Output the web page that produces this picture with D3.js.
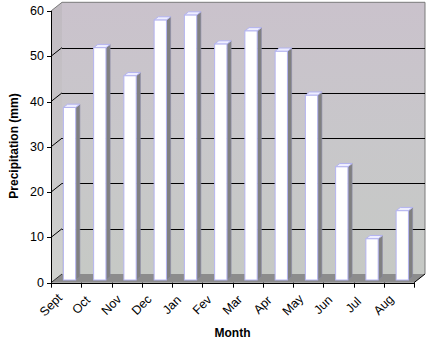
<!DOCTYPE html>
<html><head><meta charset="utf-8">
<script src="https://cdn.jsdelivr.net/npm/d3@7"></script>
<style>body{margin:0;background:#fff}svg{display:block}text{font-family:"Liberation Sans",Arial,sans-serif;fill:#000}</style>
</head><body><svg id="c" width="429" height="343"></svg>
<script>
const months = ["Sept","Oct","Nov","Dec","Jan","Fev","Mar","Apr","May","Jun","Jul","Aug"];
const precipitation = [38.1,51.3,45.1,57.4,58.5,52.1,55.0,50.5,40.8,25.0,9.1,15.3];
const yTicks = [0,10,20,30,40,50,60];
const yTitle = "Precipitation (mm)";
const xTitle = "Month";

const svg = d3.select("#c");
const x = d3.scaleBand().domain(months).range([51,414]).padding(0);
const y = d3.scaleLinear().domain([0,60]).range([282.7,11]);
const DX = 11, DY = -8.7;          // depth offset of the back wall
const BF = 0.31, BD = 0.38;        // bar front plane fraction, bar depth fraction
const barW = 12.3;

const defs = svg.append("defs");
const g1 = defs.append("linearGradient").attr("id","wall").attr("x1",0).attr("y1",0).attr("x2",0).attr("y2",1);
g1.append("stop").attr("offset","0").attr("stop-color","#cac2cc");
g1.append("stop").attr("offset","0.5").attr("stop-color","#c8c7ca");
g1.append("stop").attr("offset","1").attr("stop-color","#c6c9c5");
const g2 = defs.append("linearGradient").attr("id","side").attr("x1",0).attr("y1",0).attr("x2",0).attr("y2",1);
g2.append("stop").attr("offset","0").attr("stop-color","#c0bac1");
g2.append("stop").attr("offset","1").attr("stop-color","#d0d2cf");

const x0 = x.range()[0], x1 = x.range()[1];
const yb = v => y(v) + DY;
const line = d3.line();

// back wall
svg.append("path").attr("d", line([[x0+DX,yb(60)],[x1+DX,yb(60)],[x1+DX,yb(0)],[x0+DX,yb(0)]])+"Z")
  .attr("fill","url(#wall)");
// side wall
svg.append("path").attr("d", line([[x0,y(60)],[x0+DX,yb(60)],[x0+DX,yb(0)],[x0,y(0)]])+"Z")
  .attr("fill","url(#side)");
// floor
svg.append("path").attr("d", line([[x0,y(0)],[x1,y(0)],[x1+DX,yb(0)],[x0+DX,yb(0)]])+"Z")
  .attr("fill","#8c8c8c");

// wall borders
svg.append("path").attr("d", line([[x0,y(60)],[x0+DX,yb(60)],[x1+DX,yb(60)],[x1+DX,yb(0)]]))
  .attr("fill","none").attr("stroke","#7a7a7a").attr("stroke-width",1);

// gridlines
yTicks.filter(v => v > 0 && v < 60).forEach(v => {
  svg.append("line").attr("x1",x0+DX).attr("x2",x1+DX).attr("y1",Math.round(yb(v))+0.5).attr("y2",Math.round(yb(v))+0.5)
    .attr("stroke","#000").attr("stroke-width",1);
  svg.append("line").attr("x1",x0).attr("y1",y(v)).attr("x2",x0+DX).attr("y2",yb(v))
    .attr("stroke","#000").attr("stroke-width",1);
});
svg.append("line").attr("x1",x0).attr("y1",y(0)).attr("x2",x0+DX).attr("y2",yb(0)).attr("stroke","#333");

// bars
const bdx = BD*DX, bdy = BD*DY;
months.forEach((m,i) => {
  const v = precipitation[i];
  const bx = x(m) + x.bandwidth()/2 - barW/2 + BF*DX;
  const base = y(0) + BF*DY;
  const top = y(v) + BF*DY;
  const g = svg.append("g");
  g.append("path").attr("d", line([[bx+barW,base],[bx+barW,top],[bx+barW+bdx,top+bdy],[bx+barW+bdx,base+bdy]])+"Z")
    .attr("fill","#808080").attr("stroke","#8a8aa8").attr("stroke-width",0.6);
  g.append("path").attr("d", line([[bx,top],[bx+barW,top],[bx+barW+bdx,top+bdy],[bx+bdx,top+bdy]])+"Z")
    .attr("fill","#eeeeff").attr("stroke","#b4b4f0").attr("stroke-width",1);
  g.append("rect").attr("x",bx).attr("y",top).attr("width",barW).attr("height",base-top)
    .attr("fill","#ffffff").attr("stroke","#b4b4f0").attr("stroke-width",1);
});

// axes
svg.append("line").attr("x1",x0+0.5).attr("x2",x0+0.5).attr("y1",y(60)).attr("y2",y(0)).attr("stroke","#000");
svg.append("line").attr("x1",x0).attr("x2",x1).attr("y1",Math.round(y(0))+0.5).attr("y2",Math.round(y(0))+0.5).attr("stroke","#000");
svg.append("line").attr("x1",x1).attr("y1",y(0)).attr("x2",x1+DX).attr("y2",yb(0)).attr("stroke","#000");

// y ticks + labels
yTicks.forEach(v => {
  const yy = Math.round(y(v))+0.5;
  svg.append("line").attr("x1",47).attr("x2",x0+0.5).attr("y1",yy).attr("y2",yy).attr("stroke","#000");
  svg.append("text").attr("x",44).attr("y",y(v)).attr("text-anchor","end").attr("dominant-baseline","central")
    .attr("font-size",12.5).text(v);
});

// x ticks + labels
const xEdges = months.map(m => x(m)).concat([x1]);
xEdges.forEach(xx => {
  svg.append("line").attr("x1",Math.round(xx)+0.5).attr("x2",Math.round(xx)+0.5).attr("y1",y(0)).attr("y2",y(0)+5).attr("stroke","#000");
});
months.forEach(m => {
  const lx = x(m), ly = 305;
  svg.append("text").attr("transform",`translate(${lx},${ly}) rotate(-45)`)
    .attr("text-anchor","middle").attr("dominant-baseline","central").attr("font-size",12.5).text(m);
});

// titles
svg.append("text").attr("x",(x0+x1)/2).attr("y",333).attr("text-anchor","middle").attr("dominant-baseline","central")
  .attr("font-size",12).attr("font-weight","bold").text(xTitle);
svg.append("text").attr("transform",`translate(14,146) rotate(-90)`).attr("text-anchor","middle").attr("dominant-baseline","central")
  .attr("font-size",12).attr("font-weight","bold").text(yTitle);
</script></body></html>
